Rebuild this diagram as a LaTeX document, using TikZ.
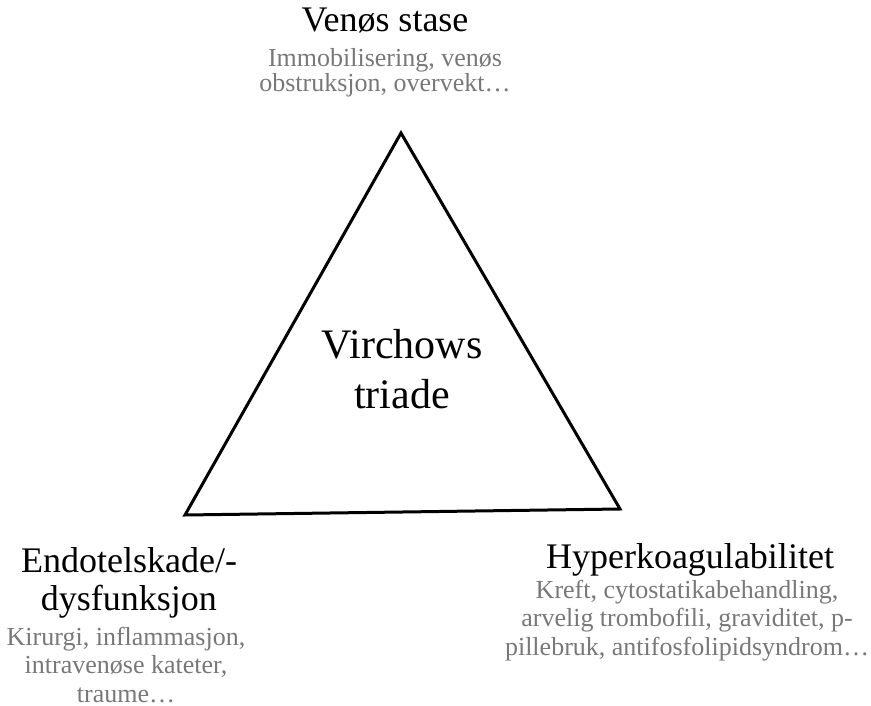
\documentclass[tikz,border=0pt]{standalone}
\usepackage{fontspec}
\setmainfont{Liberation Serif}
\definecolor{desc}{RGB}{120,120,120}
\begin{document}
\begin{tikzpicture}[x=1pt,y=-1pt,
  titletext/.style={font=\fontsize{36}{38}\selectfont, align=center, inner sep=0pt, anchor=base},
  desctext/.style={font=\fontsize{26}{28.5}\selectfont, text=desc, align=center, inner sep=0pt, anchor=base},
  centertext/.style={font=\fontsize{42}{50}\selectfont, align=center, inner sep=0pt, anchor=base},
  tri/.style={draw=black, line width=3pt, line join=miter}]
\useasboundingbox (0,0) rectangle (871,706);
\coordinate (A) at (401,133);
\coordinate (B) at (185,515);
\coordinate (C) at (620,509);
\draw[tri] (A) -- (B) -- (C) -- cycle;
% for multi-line nodes the base anchor lies on the last line's baseline
\node[centertext] (center) at (402,408) {Virchows\\triade};
\node[titletext] (stase) at (385,31.5) {Venøs stase};
\node[desctext, font=\fontsize{26}{23}\selectfont] (stasedesc) at (385,91.3) {Immobilisering, venøs\\obstruksjon, overvekt…};
\node[titletext] (endo) at (129,610) {Endotelskade/-\\dysfunksjon};
\node[desctext] (endodesc) at (126,702) {Kirurgi, inflammasjon,\\intravenøse kateter,\\traume…};
\node[titletext] (hyper) at (690,568) {Hyperkoagulabilitet};
\node[desctext] (hyperdesc) at (687,655) {Kreft, cytostatikabehandling,\\arvelig trombofili, graviditet, p-\\pillebruk, antifosfolipidsyndrom…};
\end{tikzpicture}
\end{document}
